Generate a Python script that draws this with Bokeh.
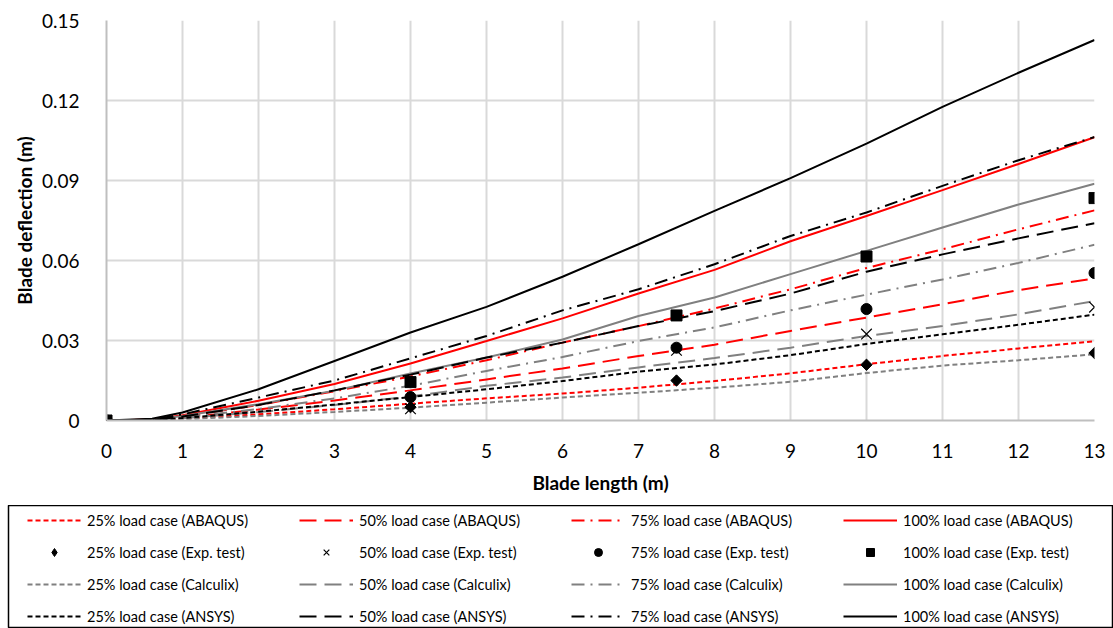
import math
from bokeh.plotting import figure
from bokeh.models import ColumnDataSource, Legend, LegendItem, FixedTicker, Range1d
from bokeh.layouts import column
from bokeh.embed import file_html
from bokeh.resources import INLINE

# ---------------- data ----------------
x_sim = [0, 0.6, 1, 2, 3, 4, 5, 6, 7, 8, 9, 10, 11, 12, 13]

abaqus_25 = [0, 0.0002, 0.0007, 0.0023, 0.0042, 0.0063, 0.0083, 0.0101, 0.0123, 0.0148, 0.0177, 0.0211, 0.0242, 0.0270, 0.0297]
abaqus_50 = [0, 0.0002, 0.0010, 0.0041, 0.0075, 0.0113, 0.0154, 0.0195, 0.0242, 0.0284, 0.0336, 0.0386, 0.0436, 0.0489, 0.0533]
abaqus_75 = [0, 0.0003, 0.0015, 0.0058, 0.0110, 0.0165, 0.0226, 0.0292, 0.0354, 0.0420, 0.0492, 0.0572, 0.0642, 0.0717, 0.0788]
abaqus_100 = [0, 0.0004, 0.0020, 0.0074, 0.0137, 0.0214, 0.0298, 0.0383, 0.0476, 0.0565, 0.0672, 0.0767, 0.0864, 0.0962, 0.1062]

calculix_25 = [0, 0.0001, 0.0005, 0.0017, 0.0032, 0.0048, 0.0067, 0.0086, 0.0104, 0.0123, 0.0145, 0.0178, 0.0206, 0.0226, 0.0248]
calculix_50 = [0, 0.0002, 0.0008, 0.0032, 0.0058, 0.0090, 0.0130, 0.0161, 0.0199, 0.0234, 0.0273, 0.0317, 0.0354, 0.0398, 0.0448]
calculix_75 = [0, 0.0002, 0.0011, 0.0043, 0.0083, 0.0130, 0.0186, 0.0238, 0.0298, 0.0349, 0.0413, 0.0472, 0.0529, 0.0591, 0.0659]
calculix_100 = [0, 0.0003, 0.0017, 0.0061, 0.0112, 0.0176, 0.0236, 0.0304, 0.0392, 0.0461, 0.0549, 0.0636, 0.0724, 0.0810, 0.0888]

ansys_25 = [0, 0.0002, 0.0009, 0.0033, 0.0060, 0.0088, 0.0117, 0.0148, 0.0183, 0.0210, 0.0245, 0.0287, 0.0323, 0.0359, 0.0397]
ansys_50 = [0, 0.0002, 0.0015, 0.0058, 0.0113, 0.0172, 0.0236, 0.0292, 0.0354, 0.0410, 0.0476, 0.0558, 0.0623, 0.0683, 0.0740]
ansys_75 = [0, 0.0003, 0.0023, 0.0086, 0.0150, 0.0233, 0.0317, 0.0413, 0.0492, 0.0586, 0.0692, 0.0780, 0.0880, 0.0976, 0.1063]
ansys_100 = [0, 0.0007, 0.0030, 0.0117, 0.0223, 0.0330, 0.0426, 0.0539, 0.0661, 0.0786, 0.0909, 0.1038, 0.1176, 0.1304, 0.1427]

x_exp = [0, 4, 7.5, 10, 13]
exp_25 = [0, 0.0050, 0.0150, 0.0209, 0.0253]
exp_50 = [0, 0.0044, 0.0263, 0.0324, 0.0425]
exp_75 = [0, 0.0088, 0.0273, 0.0418, 0.0553]
exp_100 = [0, 0.0144, 0.0394, 0.0615, 0.0834]

x_ticks = list(range(0, 14))
y_ticks = [0, 0.03, 0.06, 0.09, 0.12, 0.15]
y_tick_labels = ["0", "0.03", "0.06", "0.09", "0.12", "0.15"]

loads = ["25%", "50%", "75%", "100%"]
FONT = "Lato"

# ---------------- styles ----------------
dashes = {"25%": "5 3", "50%": "17 8", "75%": "13 6 2 6", "100%": "solid"}
colors = {"ABAQUS": "#ff0000", "Calculix": "#808080", "ANSYS": "#000000"}
# marker, size, angle  (plot) / marker, size (legend sample)
markers = {"25%": ("square", 8, math.pi / 4), "50%": ("x", 15, 0.0),
           "75%": ("circle", 11, 0.0), "100%": ("square", 11, 0.0)}
legend_markers = {"25%": ("diamond", 14), "50%": ("x", 15),
                  "75%": ("circle", 11), "100%": ("square", 10)}

sim = {
    "ABAQUS": [abaqus_25, abaqus_50, abaqus_75, abaqus_100],
    "Calculix": [calculix_25, calculix_50, calculix_75, calculix_100],
    "ANSYS": [ansys_25, ansys_50, ansys_75, ansys_100],
}
exp = [exp_25, exp_50, exp_75, exp_100]


def add_marker(fig, src, m, s, a=0.0):
    if m == "x":
        return fig.scatter("x", "y", source=src, marker=m, size=s, angle=a,
                           line_color="black", line_width=1.2)
    return fig.scatter("x", "y", source=src, marker=m, size=s, angle=a,
                       fill_color="black", line_color="black")


# ---------------- main chart ----------------
p = figure(width=1113, height=505, output_backend="svg", toolbar_location=None,
           x_range=Range1d(0, 13), y_range=Range1d(0, 0.15),
           min_border_left=106, min_border_right=19, min_border_top=20, min_border_bottom=85)
p.outline_line_color = None
p.background_fill_color = "white"
p.frame_align = False

sources = {}
for solver in ["ABAQUS", "Calculix", "ANSYS"]:
    for load, ys in zip(loads, sim[solver]):
        src = ColumnDataSource(dict(x=x_sim, y=ys))
        sources[(solver, load)] = src
        p.line("x", "y", source=src, line_color=colors[solver], line_width=2,
               line_dash=dashes[load])
for load, ys in zip(loads, exp):
    src = ColumnDataSource(dict(x=x_exp, y=ys))
    sources[("Exp", load)] = src
    add_marker(p, src, *markers[load])

for ax in (p.xaxis[0], p.yaxis[0]):
    ax.axis_line_color = "#bfbfbf"
    ax.axis_line_width = 2
    ax.major_tick_line_color = None
    ax.minor_tick_line_color = None
    ax.major_label_text_font = FONT
    ax.major_label_text_font_size = "19px"
    ax.major_label_text_color = "black"
    ax.axis_label_text_font = FONT
    ax.axis_label_text_font_size = "19px"
    ax.axis_label_text_font_style = "bold"
    ax.axis_label_text_color = "black"

p.xaxis.ticker = FixedTicker(ticks=x_ticks)
p.yaxis.ticker = FixedTicker(ticks=y_ticks)
p.yaxis.major_label_overrides = dict(zip(y_ticks, y_tick_labels))
p.xaxis.axis_label = "Blade length (m)"
p.yaxis.axis_label = "Blade deflection (m)"
p.xaxis.major_label_standoff = 17
p.xaxis.axis_label_standoff = 10
p.yaxis.major_label_standoff = 21
p.yaxis.axis_label_standoff = 3

for g in (p.xgrid[0], p.ygrid[0]):
    g.grid_line_color = "#d9d9d9"
    g.grid_line_width = 2

# ---------------- legend panel ----------------
lg = figure(width=1113, height=123, output_backend="svg", toolbar_location=None,
            x_range=Range1d(100, 101), y_range=Range1d(100, 101),
            x_axis_type=None, y_axis_type=None,
            min_border_left=8, min_border_right=0, min_border_top=0, min_border_bottom=0)
lg.frame_align = False
lg.grid.visible = False
lg.outline_line_color = "black"
lg.outline_line_width = 1.5

items = []
rows = [("ABAQUS", "ABAQUS"), ("Exp", "Exp. test"), ("Calculix", "Calculix"), ("ANSYS", "ANSYS")]
for key, name in rows:
    for load in loads:
        src = sources[(key, load)]
        if key == "Exp":
            r = add_marker(lg, src, *legend_markers[load])
        else:
            r = lg.line("x", "y", source=src, line_color=colors[key], line_width=2, line_dash=dashes[load])
        r.visible = False
        items.append(LegendItem(label=f"{load} load case ({name})", renderers=[r]))

legend = Legend(items=items, location=(19, 2), orientation="horizontal", ncols=4,
                glyph_width=54, glyph_height=20, label_height=20, label_width=200,
                label_standoff=6, spacing=12, padding=0, margin=0,
                label_text_font=FONT, label_text_font_size="14.5px", label_text_color="black",
                border_line_alpha=0, background_fill_alpha=0)
lg.add_layout(legend)

layout = column(p, lg, spacing=0)
open("out.html", "w").write(file_html(layout, INLINE))
